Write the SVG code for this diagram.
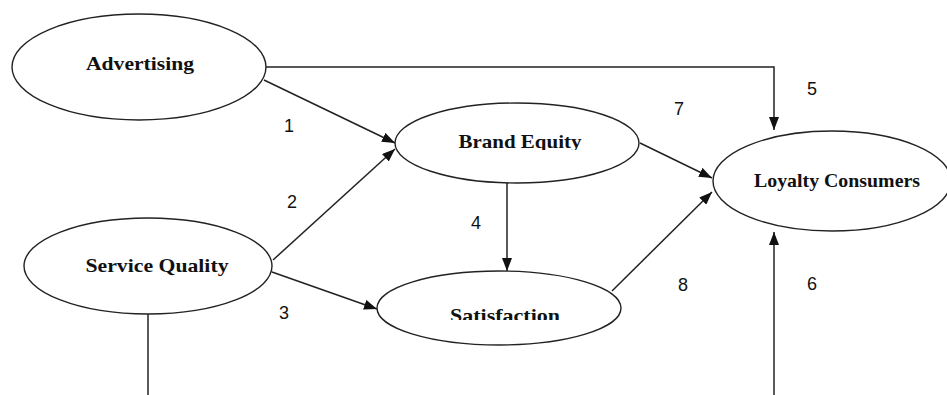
<svg xmlns="http://www.w3.org/2000/svg" width="947" height="395" viewBox="0 0 947 395">
<style>
.node ellipse{fill:#fff;stroke:#222;stroke-width:1.4}
.lbl{font-family:"Liberation Serif","Times New Roman",serif;font-weight:bold;font-size:19px;fill:#111;text-anchor:middle}
.num{font-family:"Liberation Sans",Arial,sans-serif;font-size:18px;fill:#111;text-anchor:middle}
.edges path,.edges line{fill:none;stroke:#222;stroke-width:1.5}
</style>
<defs>
<marker id="ah" markerUnits="userSpaceOnUse" markerWidth="14" markerHeight="10" refX="13" refY="5" orient="auto">
<path d="M0,0 L13,5 L0,10 z" fill="#111"/>
</marker>
<clipPath id="cBE"><rect x="400" y="110" width="240" height="40"/></clipPath>
<clipPath id="cSat"><rect x="380" y="280" width="240" height="40"/></clipPath>
</defs>
<rect width="947" height="395" fill="#fff"/>
<g class="edges">
<path d="M266,67 H774 V130" marker-end="url(#ah)"/>
<line x1="264" y1="80" x2="395" y2="143" marker-end="url(#ah)"/>
<line x1="273" y1="260" x2="395" y2="149" marker-end="url(#ah)"/>
<line x1="272" y1="272" x2="377" y2="309" marker-end="url(#ah)"/>
<line x1="507" y1="180" x2="507" y2="271" marker-end="url(#ah)"/>
<line x1="640" y1="143" x2="712" y2="178" marker-end="url(#ah)"/>
<line x1="612" y1="291" x2="712" y2="192" marker-end="url(#ah)"/>
<line x1="148" y1="314" x2="148" y2="395"/>
<line x1="774" y1="395" x2="774" y2="232" marker-end="url(#ah)"/>
</g>
<g id="advertising" class="node">
<ellipse cx="139" cy="67" rx="127" ry="53"/>
<text class="lbl" x="140" y="70" textLength="108" lengthAdjust="spacingAndGlyphs">Advertising</text>
</g>
<g id="brand-equity" class="node">
<ellipse cx="517" cy="143" rx="122" ry="40"/>
<text class="lbl" x="520" y="148" textLength="123" lengthAdjust="spacingAndGlyphs" clip-path="url(#cBE)">Brand Equity</text>
</g>
<g id="service-quality" class="node">
<ellipse cx="148" cy="266" rx="124" ry="48"/>
<text class="lbl" x="157" y="272" textLength="143" lengthAdjust="spacingAndGlyphs">Service Quality</text>
</g>
<g id="satisfaction" class="node">
<ellipse cx="499" cy="308" rx="122" ry="37"/>
<text class="lbl" x="505" y="322" textLength="110" lengthAdjust="spacingAndGlyphs" clip-path="url(#cSat)">Satisfaction</text>
</g>
<g id="loyalty-consumers" class="node">
<ellipse cx="832" cy="181" rx="119" ry="50"/>
<text class="lbl" x="837" y="187" textLength="166" lengthAdjust="spacingAndGlyphs">Loyalty Consumers</text>
</g>
<g id="labels">
<text class="num" x="289" y="132">1</text>
<text class="num" x="292" y="208">2</text>
<text class="num" x="284" y="319">3</text>
<text class="num" x="476" y="229">4</text>
<text class="num" x="812" y="95">5</text>
<text class="num" x="812" y="290">6</text>
<text class="num" x="679" y="115">7</text>
<text class="num" x="683" y="291">8</text>
</g>
</svg>
